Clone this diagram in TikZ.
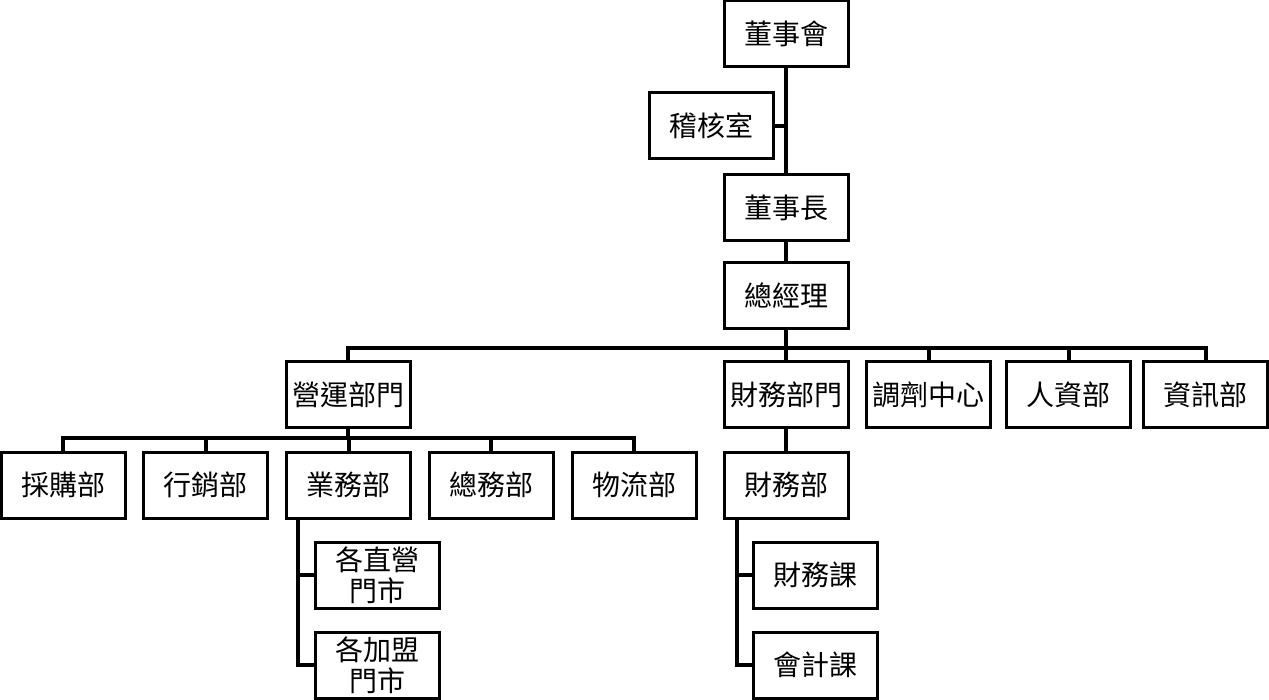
\documentclass[tikz,border=0pt]{standalone}
\usepackage{fontspec}
\newfontfamily\cjk{Noto Sans CJK TC}
\usepackage{tikz}

\begin{document}
\begin{tikzpicture}[x=1pt,y=-1pt,
		box/.style={draw,line width=3pt,minimum width=124pt,minimum height=66pt,inner sep=0pt,align=center,font=\cjk\fontsize{28}{31}\selectfont},
		link/.style={line width=4pt}]
				\useasboundingbox (0,0) rectangle (1269,700);
				\node[box] (board) at (786,34) {董事會};
				\node[box] (audit) at (711.5,126) {稽核室};
				\node[box] (chair) at (786,207.5) {董事長};
				\node[box] (gm) at (786,295.5) {總經理};
				\node[box] (ops) at (348,394.5) {營運部門};
				\node[box] (fin) at (786,394.5) {財務部門};
				\node[box] (pharm) at (928.5,394.5) {調劑中心};
				\node[box] (hr) at (1068.5,394.5) {人資部};
				\node[box] (it) at (1205.5,394.5) {資訊部};
				\node[box] (purch) at (63,485) {採購部};
				\node[box] (mkt) at (205.5,485) {行銷部};
				\node[box] (biz) at (348.5,485) {業務部};
				\node[box] (gen) at (491,485) {總務部};
				\node[box] (logi) at (634,485) {物流部};
				\node[box] (findept) at (786,485) {財務部};
				\node[box] (direct) at (377,575) {各直營\\門市};
				\node[box] (franch) at (377,665) {各加盟\\門市};
				\node[box] (finsec) at (815.5,575) {財務課};
				\node[box] (acct) at (815.5,665) {會計課};
				\coordinate (bus) at (0,348);
				\coordinate (opsbus) at (0,438);
				\coordinate (bizstem) at (298,518);
				\coordinate (finstem) at (737,518);
				\draw[link] (board) -- (chair);
				\draw[link] (audit.east) -- (audit.east -| board.south);
				\draw[link] (chair) -- (gm);
				\draw[link] (gm.south) -- (gm.south |- bus);
				\draw[link] (ops.north) |- (bus -| it.north) -- (it.north);
				\foreach \n in {fin,pharm,hr}
					\draw[link] (\n.north) -- (\n.north |- bus);
				\draw[link] (ops.south) -- (ops.south |- opsbus);
				\draw[link] (purch.north) |- (opsbus -| logi.north) -- (logi.north);
				\foreach \n in {mkt,biz,gen}
					\draw[link] (\n.north) -- (\n.north |- opsbus);
				\draw[link] (fin) -- (findept);
				\draw[link] (bizstem) |- (franch.west);
				\draw[link] (direct.west) -- (direct.west -| bizstem);
				\draw[link] (finstem) |- (acct.west);
				\draw[link] (finsec.west) -- (finsec.west -| finstem);
			\end{tikzpicture}
\end{document}
